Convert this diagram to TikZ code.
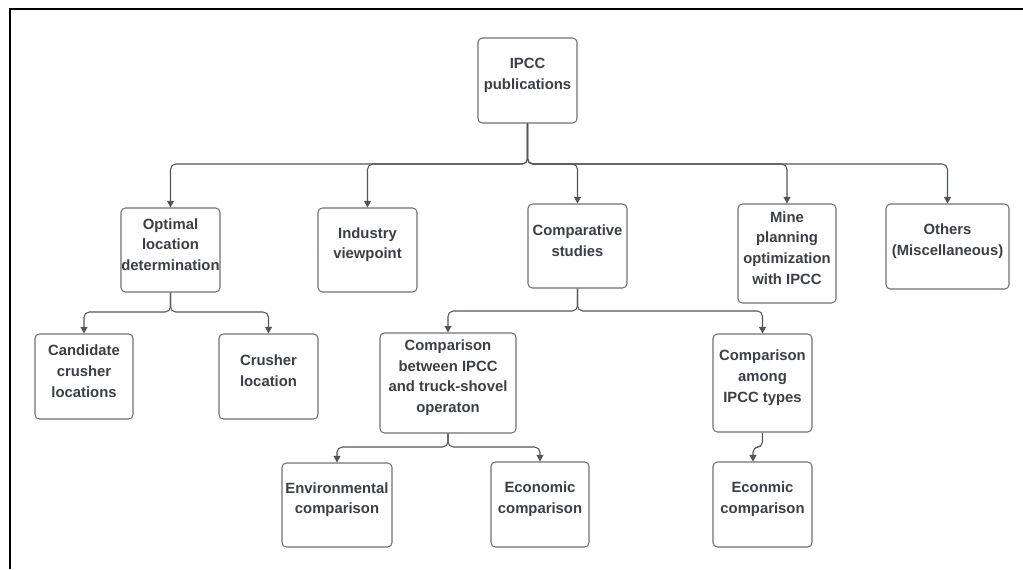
\documentclass[tikz,border=0pt]{standalone}
\usepackage{fontspec}
\setmainfont{Liberation Sans}
\usepackage{tikz}
\usetikzlibrary{arrows.meta,positioning,fit,calc}
\definecolor{cText}{HTML}{3A3F47}
\definecolor{cEdge}{HTML}{6E7177}
\definecolor{cLine}{HTML}{50555C}
\tikzset{
  box/.style={rectangle, rounded corners=2.5pt, draw=cEdge, line width=0.6pt, fill=white, align=center, inner sep=0pt, text=cText, font=\bfseries\fontsize{8.45}{11.9}\selectfont},
  flow/.style={-{Triangle[length=3.8pt, width=4pt]}, cLine, line width=0.6pt, rounded corners=3pt},
  frame/.style={line width=1.15pt, black},
}
\begin{document}
\begin{tikzpicture}[x=0.02cm, y=-0.02cm]
  \useasboundingbox (0,0) rectangle (1023,569);
  \draw[frame] (9.7,569) -- (9.7,9.3) -- (1023,9.3);
  % top
  \node[box, fit={(478,38) (577,123)}] (root) {IPCC\\publications};
  % first level
  \node[box, fit={(121,208) (220,292)}] (opt) {Optimal\\location\\determination};
  \node[box, fit={(318,208) (417,292)}] (ind) {Industry\\viewpoint};
  \node[box, fit={(528,204) (627,288)}] (comp) {Comparative\\studies};
  \node[box, fit={(738,204) (836,303)}] (mine) {Mine\\planning\\optimization\\with IPCC};
  \node[box, fit={(886,204) (1009,289)}] (oth) {Others\\(Miscellaneous)};
  % second level
  \node[box, fit={(35,334) (133,419)}] (cand) {Candidate\\crusher\\locations};
  \node[box, fit={(219,334) (318,419)}] (crus) {Crusher\\location};
  \node[box, fit={(380,333) (516,433)}] (betw) {Comparison\\between IPCC\\and truck-shovel\\operaton};
  \node[box, fit={(713,334) (812,432)}] (among) {Comparison\\among\\IPCC types};
  % third level
  \node[box, fit={(282,463) (392,547)}] (env) {Environmental\\comparison};
  \node[box, fit={(491,462) (589,547)}] (eco) {Economic\\comparison};
  \node[box, fit={(713,462) (812,547)}] (econ) {Econmic\\comparison};
  % connectors
  \coordinate (bus1) at (527.5,164);
  \foreach \c in {opt, ind, comp, mine, oth}
    \draw[flow] (root.south) -- (bus1) -| (\c.north);
  \coordinate (bus2) at (170.5,312);
  \foreach \c in {cand, crus}
    \draw[flow] (opt.south) -- (bus2) -| (\c.north);
  \coordinate (bus3) at (577.5,311);
  \foreach \c in {betw, among}
    \draw[flow] (comp.south) -- (bus3) -| (\c.north);
  \coordinate (bus4) at (448,447);
  \foreach \c in {env, eco}
    \draw[flow] (betw.south) -- (bus4) -| (\c.north);
  \draw[flow] (among.south) -- (762.5,447) -| ($(econ.north)+(-9.5,0)$);
\end{tikzpicture}
\end{document}
